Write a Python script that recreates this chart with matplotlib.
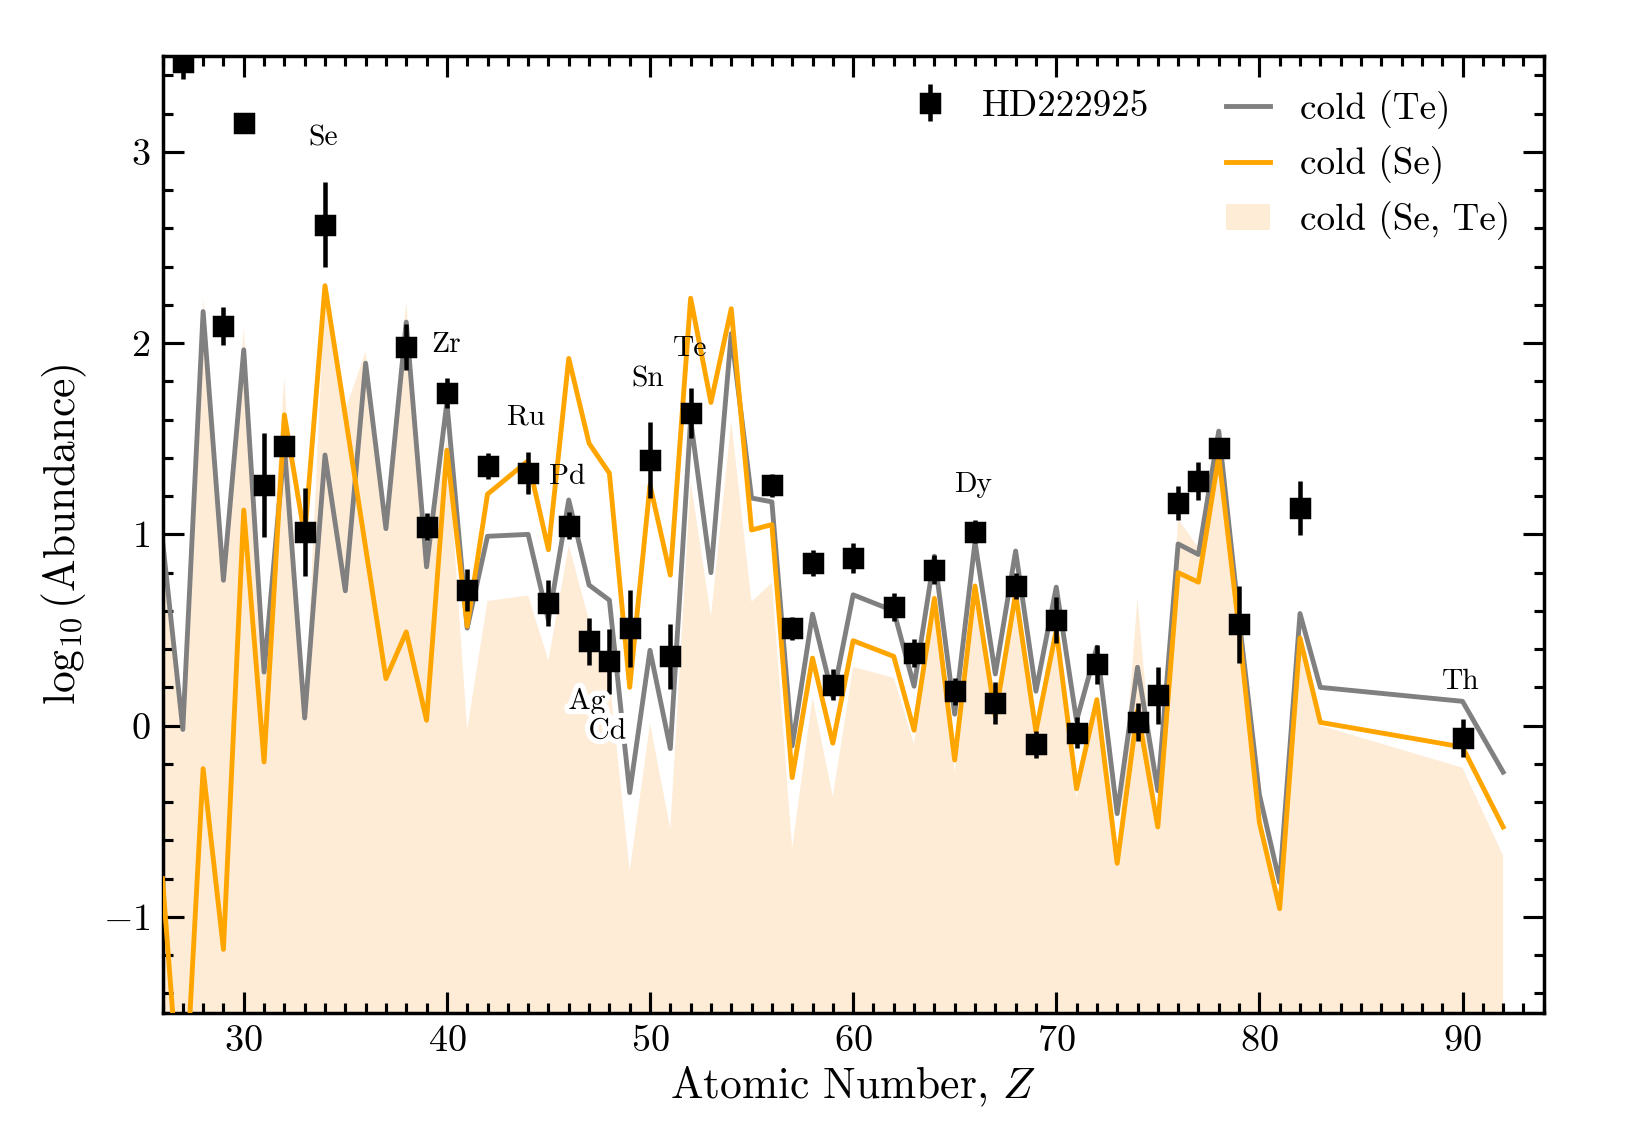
import numpy as np
import matplotlib
matplotlib.use("Agg")
import matplotlib.pyplot as plt
import matplotlib.patheffects as pe

plt.rcParams['font.family'] = 'serif'
plt.rcParams['font.serif'] = ['cmr10']
plt.rcParams['mathtext.fontset'] = 'cm'
plt.rcParams['axes.formatter.use_mathtext'] = True
plt.rcParams['axes.unicode_minus'] = True

# ---------------- data ----------------
model_Z = [26, 27, 28, 29, 30, 31, 32, 33, 34, 35, 36, 37, 38, 39, 40, 41, 42,
           44, 45, 46, 47, 48, 49, 50, 51, 52, 53, 54, 55, 56, 57, 58, 59, 60,
           62, 63, 64, 65, 66, 67, 68, 69, 70, 71, 72, 73, 74, 75, 76, 77, 78,
           79, 80, 81, 82, 83, 90, 92]

cold_Te = [0.97, -0.02, 2.165, 0.76, 1.965, 0.28, 1.46, 0.04, 1.415, 0.705, 1.895,
           1.03, 2.11, 0.83, 1.69, 0.51, 0.99,
           1.00, 0.55, 1.18, 0.735, 0.656, -0.35, 0.394, -0.12, 1.60, 0.80, 2.05,
           1.19, 1.17, -0.106, 0.583, 0.15, 0.684,
           0.60, 0.206, 0.886, 0.06, 0.96, 0.27, 0.913, 0.18, 0.724, 0.026, 0.41,
           -0.46, 0.305, -0.34, 0.95, 0.895, 1.54,
           0.56, -0.36, -0.82, 0.586, 0.20, 0.127, -0.243]

cold_Se = [-0.80, -2.2, -0.225, -1.17, 1.127, -0.19, 1.625, 0.99, 2.30, 1.62, 0.93,
           0.246, 0.49, 0.028, 1.44, 0.52, 1.21,
           1.385, 0.92, 1.92, 1.476, 1.32, 0.20, 1.258, 0.787, 2.235, 1.69, 2.18,
           1.023, 1.051, -0.272, 0.353, -0.092, 0.444,
           0.362, -0.024, 0.665, -0.18, 0.73, 0.05, 0.69, -0.03, 0.50, -0.33, 0.136,
           -0.72, 0.08, -0.53, 0.80, 0.75, 1.41,
           0.50, -0.506, -0.957, 0.458, 0.017, -0.112, -0.53]

cold_SeTe_top = [0.97, -0.05, 2.24, 0.74, 2.08, 0.26, 1.82, 0.02, 2.28, 1.65, 1.956,
                 1.0, 2.22, 0.8, 1.5, -0.02, 0.652,
                 0.68, 0.34, 0.944, 0.55, 0.25, -0.76, 0.01, -0.54, 1.28, 0.57, 1.593,
                 0.647, 0.748, -0.64, 0.15, -0.37, 0.307,
                 0.25, -0.097, 0.7, -0.245, 0.75, 0.0, 0.7, -0.1, 0.55, -0.38, 0.15,
                 -0.72, 0.67, -0.55, 1.08, 0.93, 1.5,
                 0.5, -0.5, -0.95, 0.5, 0.0, -0.22, -0.68]
cold_SeTe_bottom = -4.0

obs_Z = [27, 29, 30, 31, 32, 33, 34, 38, 39, 40, 41, 42, 44, 45, 46, 47, 48, 49,
         50, 51, 52, 56, 57, 58, 59, 60, 62, 63, 64, 65, 66, 67, 68, 69, 70, 71,
         72, 74, 75, 76, 77, 78, 79, 82, 90]
obs_val = [3.47, 2.09, 3.15, 1.258, 1.46, 1.01, 2.62, 1.98, 1.04, 1.74, 0.708, 1.357,
           1.32, 0.64, 1.045, 0.44, 0.337, 0.508, 1.39, 0.363, 1.633,
           1.257, 0.51, 0.85, 0.215, 0.876, 0.62, 0.38, 0.816, 0.18, 1.014, 0.118,
           0.73, -0.097, 0.55, -0.036, 0.32, 0.017, 0.158, 1.165, 1.28, 1.45, 0.53,
           1.138, -0.066]
obs_err = [0.09, 0.10, 0.03, 0.27, 0.03, 0.23, 0.22, 0.12, 0.07, 0.08, 0.11, 0.07,
           0.11, 0.12, 0.07, 0.125, 0.17, 0.20, 0.20, 0.17, 0.13,
           0.06, 0.06, 0.07, 0.08, 0.08, 0.075, 0.075, 0.075, 0.07, 0.06, 0.11,
           0.07, 0.07, 0.12, 0.08, 0.10, 0.10, 0.15, 0.09, 0.10, 0.04, 0.20,
           0.14, 0.10]

label_text = ['Se', 'Zr', 'Ru', 'Pd', 'Sn', 'Te', 'Ag', 'Cd', 'Dy', 'Th']
label_x = [33.9, 39.95, 43.9, 45.9, 49.9, 52.0, 46.9, 47.9, 65.9, 89.9]
label_y = [3.07, 1.99, 1.61, 1.30, 1.81, 1.97, 0.125, -0.03, 1.26, 0.23]
outlined = ['Ag', 'Cd']

# ---------------- plot ----------------
fig = plt.figure(figsize=(6.5, 4.5), dpi=250)
ax = fig.add_axes([0.1, 0.1, 0.85, 0.85])

fill = ax.fill_between(model_Z, cold_SeTe_bottom, cold_SeTe_top, color='#feecd7',
                       lw=0, zorder=1, label='cold (Se, Te)')
lte, = ax.plot(model_Z, cold_Te, color='grey', lw=1.4, zorder=2, label='cold (Te)')
lse, = ax.plot(model_Z, cold_Se, color='orange', lw=1.4, zorder=3, label='cold (Se)')
eb = ax.errorbar(obs_Z, obs_val, yerr=obs_err, fmt='s', color='k', ms=5,
                 elinewidth=1.3, capsize=0, zorder=5, label='HD222925')

for t, x, y in zip(label_text, label_x, label_y):
    txt = ax.text(x, y, t, ha='center', va='center', fontsize=8.5, zorder=6)
    if t in outlined:
        txt.set_path_effects([pe.withStroke(linewidth=3, foreground='white')])

ax.set_xlim(26, 94)
ax.set_ylim(-1.5, 3.5)
ax.set_xticks([30, 40, 50, 60, 70, 80, 90])
ax.set_yticks([-1, 0, 1, 2, 3])
ax.xaxis.set_minor_locator(matplotlib.ticker.MultipleLocator(1))
ax.yaxis.set_minor_locator(matplotlib.ticker.MultipleLocator(0.2))
ax.tick_params(which='both', direction='in', top=True, right=True, labelsize=11)
ax.tick_params(which='major', length=6, width=0.9)
ax.tick_params(which='minor', length=2.8, width=0.9)
for s in ax.spines.values():
    s.set_linewidth(1.0)

ax.set_xlabel('Atomic Number, $Z$', fontsize=12.5, labelpad=2)
ax.set_ylabel(r'$\log_{10}$(Abundance)', fontsize=12.5)

leg1 = ax.legend(handles=[eb], loc='upper left', bbox_to_anchor=(0.515, 1.0),
                 frameon=False, fontsize=10.7, handlelength=1.2, handletextpad=0.8)
ax.add_artist(leg1)
ax.legend(handles=[lte, lse, fill], loc='upper right', bbox_to_anchor=(1.0, 1.0),
          frameon=False, fontsize=10.7, handlelength=1.2, handletextpad=0.8,
          labelspacing=0.46)

fig.savefig('out.png', dpi=250)
